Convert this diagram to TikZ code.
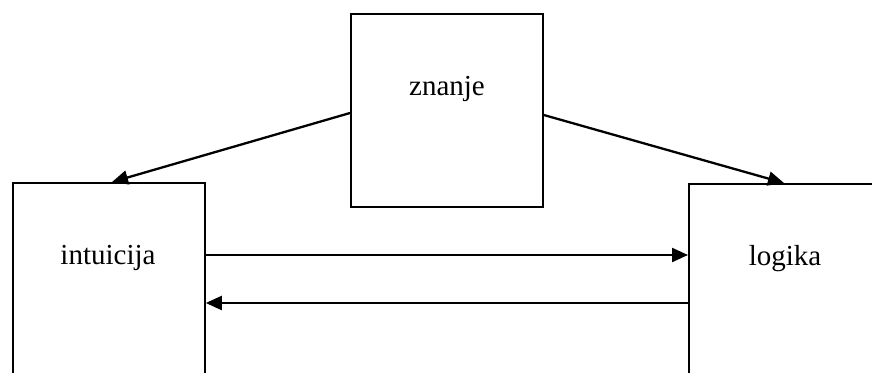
\documentclass[tikz,border=0pt]{standalone}
\usepackage{fontspec}
\setmainfont{Liberation Serif}
\usetikzlibrary{arrows.meta}
\begin{document}
\begin{tikzpicture}[x=1pt,y=-1pt,
  box/.style={draw,line width=1.8pt,minimum width=0pt,minimum height=0pt,inner sep=0pt,anchor=north west},
  lbl/.style={font=\fontsize{29}{32}\selectfont,inner sep=0pt},
  arr/.style={line width=2.3pt,-{Triangle[length=16pt,width=14pt]}}]
\useasboundingbox (0,0) rectangle (872,372);
\clip (0,0) rectangle (872,372);
% the three boxes (the lower two run past the page edge)
\node[box,minimum width=192pt,minimum height=193pt] (zn) at (350,13) {};
\node[box,minimum width=192pt,minimum height=240pt] (intu) at (12,182) {};
\node[box,minimum width=240pt,minimum height=240pt] (logi) at (688,183) {};
% box captions
\node[lbl] (tzn) at (447,89) {znanje};
\node[lbl] (tin) at (108,258) {intuicija};
\node[lbl] (tlo) at (785,259) {logika};
% connectors
\draw[arr] (zn.west |- 0,113) -- (intu.north -| 112,0);
\draw[arr] (zn.east |- 0,115) -- (logi.north -| 784,0);
\draw[arr] (intu.east |- 0,255) -- (logi.west |- 0,255);
\draw[arr] (logi.west |- 0,303) -- (intu.east |- 0,303);
\end{tikzpicture}
\end{document}
